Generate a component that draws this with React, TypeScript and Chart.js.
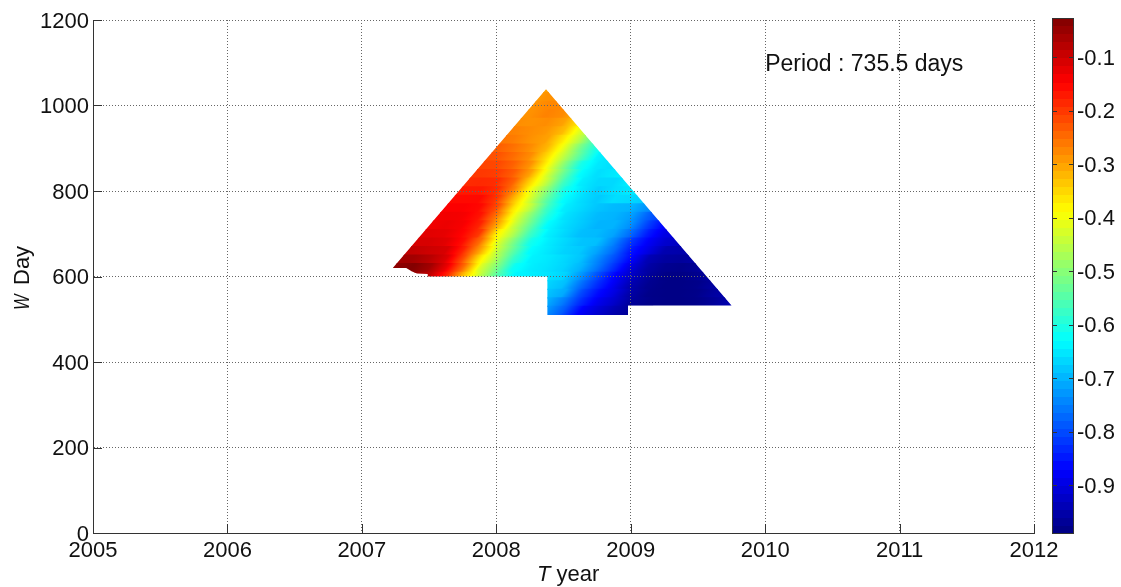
import React, { useEffect, useRef } from "react";
import { Chart, registerables } from "chart.js";

Chart.register(...registerables);

const FONT = "'Liberation Sans', Arial, sans-serif";
const _ = null;

const xTicks = [2005, 2006, 2007, 2008, 2009, 2010, 2011, 2012];
const yTicks = [0, 200, 400, 600, 800, 1000, 1200];
const colorbarTicks = [-0.9, -0.8, -0.7, -0.6, -0.5, -0.4, -0.3, -0.2, -0.1];
const colorRange = [-0.991, -0.027];
const periodNote = "Period : 735.5 days";

// Time columns of the field (years)
const tColumns = [
  2007.25, 2007.375, 2007.5, 2007.625, 2007.75, 2007.875, 2008, 2008.125, 2008.25, 2008.375, 2008.5,
  2008.625, 2008.75, 2008.875, 2009, 2009.125, 2009.25, 2009.375, 2009.5, 2009.625, 2009.75,
];
// Window rows of the field (days)
const wRows = [1040, 1020, 1000, 980, 960, 940, 920, 900, 880, 860, 840, 820, 800, 780, 760, 740, 720, 700, 680, 660, 640, 620, 600, 580, 560, 540, 520];

const fieldValues: (number | null)[][] = [
  [_, _, _, _, _, _, _, _, -.30, -.30, -.29, _, _, _, _, _, _, _, _, _, _],
  [_, _, _, _, _, _, _, _, -.30, -.285, -.28, _, _, _, _, _, _, _, _, _, _],
  [_, _, _, _, _, _, _, -.29, -.29, -.275, -.275, -.29, _, _, _, _, _, _, _, _, _],
  [_, _, _, _, _, _, _, -.29, -.285, -.27, -.28, -.32, _, _, _, _, _, _, _, _, _],
  [_, _, _, _, _, _, _, -.28, -.285, -.28, -.30, -.37, _, _, _, _, _, _, _, _, _],
  [_, _, _, _, _, _, -.27, -.27, -.28, -.29, -.325, -.42, -.5, _, _, _, _, _, _, _, _],
  [_, _, _, _, _, -.25, -.255, -.265, -.285, -.30, -.37, -.46, -.58, _, _, _, _, _, _, _, _],
  [_, _, _, _, _, -.23, -.235, -.255, -.28, -.32, -.41, -.52, -.61, -.65, _, _, _, _, _, _, _],
  [_, _, _, _, _, -.22, -.225, -.25, -.28, -.355, -.45, -.55, -.64, -.66, _, _, _, _, _, _, _],
  [_, _, _, _, -.21, -.21, -.215, -.24, -.285, -.385, -.50, -.61, -.65, -.66, -.64, _, _, _, _, _, _],
  [_, _, _, _, -.20, -.20, -.205, -.235, -.30, -.42, -.53, -.63, -.66, -.65, -.64, _, _, _, _, _, _],
  [_, _, _, -.19, -.19, -.185, -.19, -.24, -.35, -.45, -.57, -.645, -.665, -.665, -.645, -.64, _, _, _, _, _],
  [_, _, _, -.17, -.17, -.17, -.19, -.27, -.40, -.50, -.61, -.65, -.675, -.66, -.65, -.65, _, _, _, _, _],
  [_, _, _, -.155, -.155, -.155, -.20, -.32, -.43, -.54, -.63, -.66, -.68, -.66, -.665, -.68, _, _, _, _, _],
  [_, _, -.15, -.145, -.145, -.155, -.22, -.36, -.45, -.57, -.645, -.665, -.685, -.695, -.70, -.735, -.76, _, _, _, _],
  [_, _, -.14, -.135, -.14, -.165, -.26, -.40, -.50, -.60, -.655, -.675, -.695, -.70, -.72, -.78, -.82, _, _, _, _],
  [_, -.13, -.135, -.13, -.14, -.18, -.30, -.43, -.53, -.63, -.66, -.68, -.70, -.70, -.735, -.81, -.87, -.90, _, _, _],
  [_, -.12, -.12, -.125, -.15, -.20, -.37, -.46, -.57, -.64, -.665, -.69, -.695, -.715, -.77, -.845, -.895, -.91, _, _, _],
  [-.11, -.11, -.11, -.12, -.16, -.25, -.41, -.51, -.61, -.645, -.665, -.685, -.69, -.745, -.82, -.875, -.915, -.93, -.93, _, _],
  [-.09, -.09, -.10, -.11, -.18, -.30, -.44, -.54, -.63, -.65, -.67, -.68, -.715, -.77, -.85, -.895, -.945, -.95, -.94, _, _],
  [-.06, -.06, -.08, -.115, -.22, -.37, -.47, -.58, -.64, -.65, -.665, -.685, -.74, -.80, -.87, -.94, -.96, -.965, -.955, -.93, _],
  [-.04, -.03, -.06, -.13, -.25, -.42, -.51, -.62, -.645, -.655, -.67, -.70, -.76, -.83, -.905, -.955, -.975, -.98, -.97, -.945, _],
  [_, -.05, -.09, -.18, -.33, -.45, -.55, -.635, -.645, -.655, -.67, -.73, -.80, -.87, -.925, -.965, -.985, -.985, -.975, -.955, _],
  [_, _, _, _, _, _, _, _, _, -.67, -.69, -.765, -.83, -.885, -.945, -.975, -.985, -.985, -.98, -.96, -.94],
  [_, _, _, _, _, _, _, _, _, -.685, -.71, -.80, -.86, -.90, -.955, -.98, -.985, -.985, -.98, -.96, -.945],
  [_, _, _, _, _, _, _, _, _, -.705, -.755, -.83, -.885, -.92, -.965, -.98, -.985, -.985, -.98, -.965, -.945],
  [_, _, _, _, _, _, _, _, _, -.73, -.785, -.87, -.91, -.945, -.97, -.98, _, _, _, _, _],
];

// Outline of the region that has a result (year, days)
const outlineT = [2007.23, 2007.33, 2007.37, 2007.41, 2007.49, 2007.49, 2008.38, 2008.38, 2008.98, 2008.98, 2009.75, 2008.37];
const outlineW = [620, 620, 612, 607, 606, 600, 600, 510, 510, 532, 532, 1038];

// Jet colour ramp: position, red, green, blue
const jetPos = [0, 0.125, 0.375, 0.625, 0.875, 1];
const jetR = [0, 0, 0, 1, 1, 0.5];
const jetG = [0, 0, 1, 1, 0, 0];
const jetB = [0.5, 1, 1, 0, 0, 0];

function jet(t: number): string {
  const f = Math.max(0, Math.min(1, t));
  let i = 0;
  while (i < jetPos.length - 2 && f > jetPos[i + 1]) i++;
  const k = (f - jetPos[i]) / (jetPos[i + 1] - jetPos[i]);
  const c = (a: number[]) => Math.round(255 * (a[i] + (a[i + 1] - a[i]) * k));
  return `rgb(${c(jetR)},${c(jetG)},${c(jetB)})`;
}
const valueColor = (v: number) => jet((v - colorRange[0]) / (colorRange[1] - colorRange[0]));

// The shading of each row leans along the contours of the field.
const CONTOUR_LEAN = 0.75;

function rowGradient(chart: any, row: (number | null)[], w: number) {
  const xs = chart.scales.x;
  const idx = row.map((v, i) => (v === null ? -1 : i)).filter((i) => i >= 0);
  const p0 = xs.getPixelForValue(tColumns[idx[0]]);
  const p1 = xs.getPixelForValue(tColumns[idx[idx.length - 1]]);
  const py = chart.scales.y.getPixelForValue(w);
  if (!chart.chartArea || !Number.isFinite(p0) || !Number.isFinite(p1) || !Number.isFinite(py) || p1 <= p0) return "#000";
  const a = (p1 - p0) / (1 + CONTOUR_LEAN * CONTOUR_LEAN);
  const g = chart.ctx.createLinearGradient(p0, py, p0 + a, py + CONTOUR_LEAN * a);
  const SUB = 6;
  for (let n = 0; n < idx.length - 1; n++) {
    const va = row[idx[n]] as number;
    const vb = row[idx[n + 1]] as number;
    const pa = xs.getPixelForValue(tColumns[idx[n]]);
    const pb = xs.getPixelForValue(tColumns[idx[n + 1]]);
    for (let s = 0; s <= SUB; s++) {
      const q = s / SUB;
      g.addColorStop(Math.min(1, (pa + (pb - pa) * q - p0) / (p1 - p0)), valueColor(va + (vb - va) * q));
    }
  }
  return g;
}

const rowBars = wRows.map((w, r) => {
  const idx = fieldValues[r].map((v, i) => (v === null ? -1 : i)).filter((i) => i >= 0);
  return { y: w, x: [tColumns[idx[0]] - 0.04, tColumns[idx[idx.length - 1]] + 0.04] };
});

const outlineClip = {
  id: "outlineClip",
  beforeDatasetsDraw(chart: any) {
    const { ctx, scales } = chart;
    ctx.save();
    ctx.beginPath();
    outlineT.forEach((t, i) => {
      const px = scales.x.getPixelForValue(t);
      const py = scales.y.getPixelForValue(outlineW[i]);
      if (i === 0) ctx.moveTo(px, py);
      else ctx.lineTo(px, py);
    });
    ctx.closePath();
    ctx.clip();
  },
  afterDatasetsDraw(chart: any) {
    chart.ctx.restore();
  },
};

const axisExtras = {
  id: "axisExtras",
  afterDraw(chart: any) {
    const { ctx, scales, chartArea } = chart;
    ctx.save();
    ctx.strokeStyle = "#333";
    ctx.lineWidth = 1;
    ctx.beginPath();
    xTicks.forEach((t) => {
      const px = Math.round(scales.x.getPixelForValue(t)) + 0.5;
      ctx.moveTo(px, chartArea.bottom);
      ctx.lineTo(px, chartArea.bottom - 9);
    });
    yTicks.forEach((t) => {
      const py = Math.round(scales.y.getPixelForValue(t)) + 0.5;
      ctx.moveTo(chartArea.left, py);
      ctx.lineTo(chartArea.left + 9, py);
    });
    ctx.stroke();

    ctx.fillStyle = "#111";
    ctx.textBaseline = "alphabetic";
    ctx.textAlign = "left";
    ctx.font = `23px ${FONT}`;
    ctx.fillText(periodNote, scales.x.getPixelForValue(2010), scales.y.getPixelForValue(1081));

    // x-axis title with an italic symbol
    ctx.font = `italic 22px ${FONT}`;
    ctx.fillText("T", 537, 581);
    const tw = ctx.measureText("T ").width;
    ctx.font = `22px ${FONT}`;
    ctx.fillText("year", 537 + tw, 581);

    // y-axis title with an italic symbol
    ctx.translate(29, 310);
    ctx.rotate(-Math.PI / 2);
    ctx.font = `22px ${FONT}`;
    ctx.fillText("Day", 25, 0);
    ctx.scale(0.75, 1);
    ctx.font = `italic 22px ${FONT}`;
    ctx.fillText("W", 0, 0);
    ctx.restore();
  },
};

const colorbarFrame = {
  id: "colorbarFrame",
  afterDraw(chart: any) {
    const { ctx, scales, chartArea: a } = chart;
    ctx.save();
    ctx.strokeStyle = "#333";
    ctx.lineWidth = 1;
    ctx.strokeRect(a.left + 0.5, a.top + 0.5, a.right - a.left - 1, a.bottom - a.top - 1);
    ctx.beginPath();
    colorbarTicks.forEach((v) => {
      const py = Math.round(scales.y.getPixelForValue(v)) + 0.5;
      ctx.moveTo(a.left, py);
      ctx.lineTo(a.left + 5, py);
      ctx.moveTo(a.right - 5, py);
      ctx.lineTo(a.right, py);
    });
    ctx.stroke();
    ctx.restore();
  },
};

function colorbarGradient(chart: any) {
  const s = chart.scales.y;
  const top = s.getPixelForValue(colorRange[1]);
  const bottom = s.getPixelForValue(colorRange[0]);
  if (!chart.chartArea || !Number.isFinite(top) || !Number.isFinite(bottom) || bottom <= top) return "#000";
  const g = chart.ctx.createLinearGradient(0, bottom, 0, top);
  const LEVELS = 64;
  for (let i = 0; i < LEVELS; i++) {
    const col = jet((i + 0.5) / LEVELS);
    g.addColorStop(i / LEVELS, col);
    g.addColorStop((i + 1) / LEVELS, col);
  }
  return g;
}

export default function App() {
  const mainRef = useRef<HTMLCanvasElement>(null);
  const barRef = useRef<HTMLCanvasElement>(null);

  useEffect(() => {
    const main = new Chart(mainRef.current as HTMLCanvasElement, {
      type: "bar",
      data: {
        datasets: [
          {
            label: "Field",
            data: rowBars as any,
            barThickness: 9,
            borderWidth: 0,
            backgroundColor: (c: any) =>
              c.chart.scales?.x && c.dataIndex !== undefined
                ? rowGradient(c.chart, fieldValues[c.dataIndex], wRows[c.dataIndex])
                : "#000",
          },
        ],
      },
      options: {
        indexAxis: "y",
        responsive: false,
        animation: false,
        layout: { padding: { top: 20, right: 87, left: 0, bottom: 0 } },
        plugins: { legend: { display: false }, tooltip: { enabled: false } },
        scales: {
          x: {
            type: "linear",
            min: 2005,
            max: 2012,
            afterFit: (s: any) => { s.height = 54; },
            afterBuildTicks: (s: any) => { s.ticks = xTicks.map((value) => ({ value })); },
            grid: { z: 1, color: "#666", drawTicks: false },
            border: { color: "#333", dash: [1, 2], display: true, z: 2 },
            ticks: {
              autoSkip: false,
              maxRotation: 0,
              padding: 5,
              color: "#111",
              font: { family: FONT, size: 22 },
              callback: (v: any) => String(v),
            },
          } as any,
          y: {
            type: "linear",
            offset: false,
            min: 0,
            max: 1200,
            afterFit: (s: any) => { s.width = 93; },
            afterBuildTicks: (s: any) => { s.ticks = yTicks.map((value) => ({ value })); },
            grid: { z: 1, offset: false, color: "#666", drawTicks: false },
            border: { color: "#333", dash: [1, 2], display: true, z: 2 },
            ticks: {
              padding: 4,
              labelOffset: 1.5,
              color: "#111",
              font: { family: FONT, size: 22 },
              callback: (v: any) => String(v),
            },
          } as any,
        },
      },
      plugins: [outlineClip, axisExtras],
    } as any);

    const bar = new Chart(barRef.current as HTMLCanvasElement, {
      type: "bar",
      data: {
        labels: ["colour"],
        datasets: [
          {
            label: "Colour scale",
            data: [colorRange] as any,
            barPercentage: 1,
            categoryPercentage: 1,
            borderWidth: 0,
            backgroundColor: (c: any) => (c.chart.scales?.y ? colorbarGradient(c.chart) : "#000"),
          },
        ],
      },
      options: {
        responsive: false,
        animation: false,
        layout: { padding: { top: 18, bottom: 53, left: 12, right: 0 } },
        plugins: { legend: { display: false }, tooltip: { enabled: false } },
        scales: {
          x: { display: false },
          y: {
            type: "linear",
            position: "right",
            min: colorRange[0],
            max: colorRange[1],
            afterFit: (s: any) => { s.width = 47; },
            afterBuildTicks: (s: any) => { s.ticks = colorbarTicks.map((value) => ({ value })); },
            grid: { display: false, drawTicks: false },
            border: { display: false },
            ticks: {
              padding: 3,
              labelOffset: 1.5,
              color: "#111",
              font: { family: FONT, size: 22 },
              callback: (v: any) => Number(v).toFixed(1),
            },
          } as any,
        },
      },
      plugins: [colorbarFrame],
    } as any);

    return () => {
      main.destroy();
      bar.destroy();
    };
  }, []);

  return (
    <div style={{ position: "fixed", left: 0, top: 0, width: 1121, height: 587, background: "#fff" }}>
      <canvas ref={mainRef} width={1121} height={587} style={{ position: "absolute", left: 0, top: 0 }} />
      <canvas ref={barRef} width={81} height={587} style={{ position: "absolute", left: 1040, top: 0 }} />
    </div>
  );
}
